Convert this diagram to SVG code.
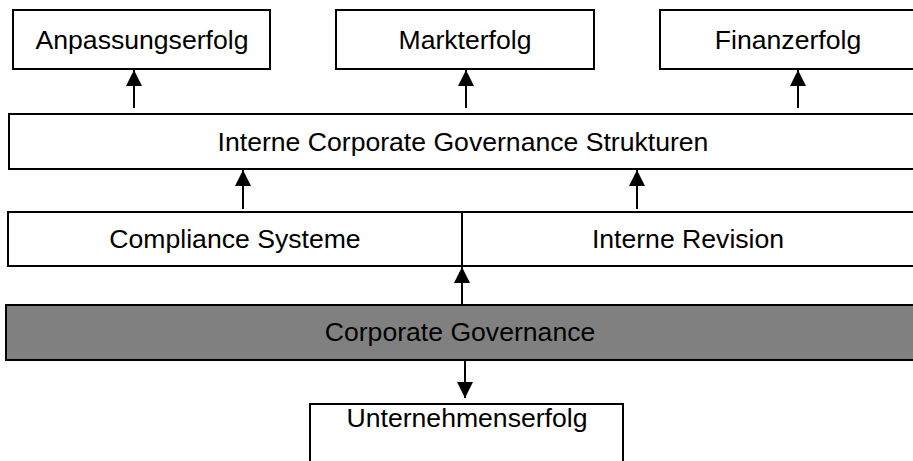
<svg xmlns="http://www.w3.org/2000/svg" width="913" height="461" viewBox="0 0 913 461">
<defs>
<style>
.box{fill:#fff;stroke:#000;stroke-width:2}
.dark{fill:#808080;stroke:#000;stroke-width:2}
.t{font-family:"Liberation Sans",Arial,sans-serif;font-size:26.6px;fill:#000;text-anchor:middle}
.c{stroke:#000;stroke-width:2;fill:none;marker-end:url(#ah)}
</style>
<marker id="ah" markerUnits="userSpaceOnUse" markerWidth="16" markerHeight="16" viewBox="0 0 16 16" refX="16" refY="8" orient="auto">
<path d="M0,0 L16,8 L0,16 Z" fill="#000"/>
</marker>
</defs>
<rect width="913" height="461" fill="#fff"/>
<g id="anpassungserfolg"><rect class="box" x="13" y="10" width="257" height="59"/><text class="t" x="142" y="49">Anpassungserfolg</text></g>
<g id="markterfolg"><rect class="box" x="336" y="10" width="258" height="59"/><text class="t" x="465" y="49">Markterfolg</text></g>
<g id="finanzerfolg"><rect class="box" x="660" y="10" width="258" height="59"/><text class="t" x="788" y="49">Finanzerfolg</text></g>
<g id="interne-cg"><rect class="box" x="9" y="114" width="910" height="55"/><text class="t" x="463" y="151">Interne Corporate Governance Strukturen</text></g>
<g id="compliance"><rect class="box" x="8" y="212" width="454" height="54"/><text class="t" x="235" y="248">Compliance Systeme</text></g>
<g id="revision"><rect class="box" x="462" y="212" width="457" height="54"/><text class="t" x="688" y="248">Interne Revision</text></g>
<g id="corporate-governance"><rect class="dark" x="6" y="305" width="913" height="55"/><text class="t" x="460" y="341">Corporate Governance</text></g>
<g id="unternehmenserfolg"><rect class="box" x="310" y="404" width="313" height="70"/><text class="t" x="467" y="427">Unternehmenserfolg</text></g>
<g id="connectors">
<line class="c" x1="134" y1="108" x2="134" y2="70"/>
<line class="c" x1="466" y1="108" x2="466" y2="70"/>
<line class="c" x1="798" y1="108" x2="798" y2="70"/>
<line class="c" x1="243" y1="209" x2="243" y2="170"/>
<line class="c" x1="637" y1="209" x2="637" y2="170"/>
<line class="c" x1="462" y1="304" x2="462" y2="267"/>
<line class="c" x1="465" y1="361" x2="465" y2="398"/>
</g>
</svg>
